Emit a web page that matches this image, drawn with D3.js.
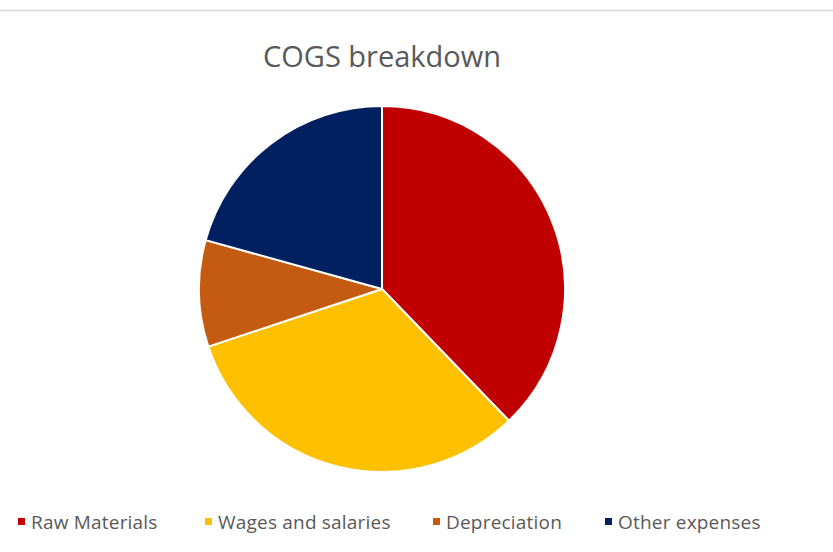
<!DOCTYPE html>
<html>
<head>
<meta charset="utf-8">
<script src="https://cdn.jsdelivr.net/npm/d3@7"></script>
<style>
  html, body { margin: 0; padding: 0; background: #fff; }
  svg { display: block; }
</style>
</head>
<body>
<svg id="chart" width="833" height="552"></svg>
<script>
// Cost of goods sold split (share of total, %)
const categories = ["Raw Materials", "Wages and salaries", "Depreciation", "Other expenses"];
const values = [37.8, 32.1, 9.4, 20.7];
const colors = ["#C00000", "#FFC000", "#C55A11", "#002060"];
const title = "COGS breakdown";

const svg = d3.select("#chart");
const W = 833, H = 552;
const cx = 382, cy = 289, r = 183;

// top frame border
svg.append("line")
  .attr("x1", 0).attr("x2", W).attr("y1", 10.5).attr("y2", 10.5)
  .attr("stroke", "#d6d6d6").attr("stroke-width", 1.5);

svg.append("text")
  .attr("x", cx).attr("y", 67)
  .attr("text-anchor", "middle")
  .attr("font-family", "'Open Sans', sans-serif")
  .attr("font-size", 29)
  .attr("fill", "#595959")
  .text(title);

const data = categories.map((c, i) => ({ name: c, value: values[i], color: colors[i] }));

const pie = d3.pie().value(d => d.value).sort(null);
const arc = d3.arc().innerRadius(0).outerRadius(r);

svg.append("g")
  .attr("transform", `translate(${cx},${cy})`)
  .selectAll("path")
  .data(pie(data))
  .join("path")
  .attr("d", arc)
  .attr("fill", d => d.data.color)
  .attr("stroke", "#fff")
  .attr("stroke-width", 2)
  .attr("stroke-linejoin", "round");

// legend along the bottom
const legendX = [18, 205, 433, 605];
const legend = svg.append("g");
data.forEach((d, i) => {
  const g = legend.append("g").attr("transform", `translate(${legendX[i]},522)`);
  g.append("rect").attr("x", 0).attr("y", -4).attr("width", 7).attr("height", 7).attr("fill", d.color);
  g.append("text")
    .attr("x", 13).attr("y", 6.5)
    .attr("font-family", "'Open Sans', sans-serif")
    .attr("font-size", 19)
    .attr("letter-spacing", 0.2)
    .attr("fill", "#595959")
    .text(d.name);
});
</script>
</body>
</html>
